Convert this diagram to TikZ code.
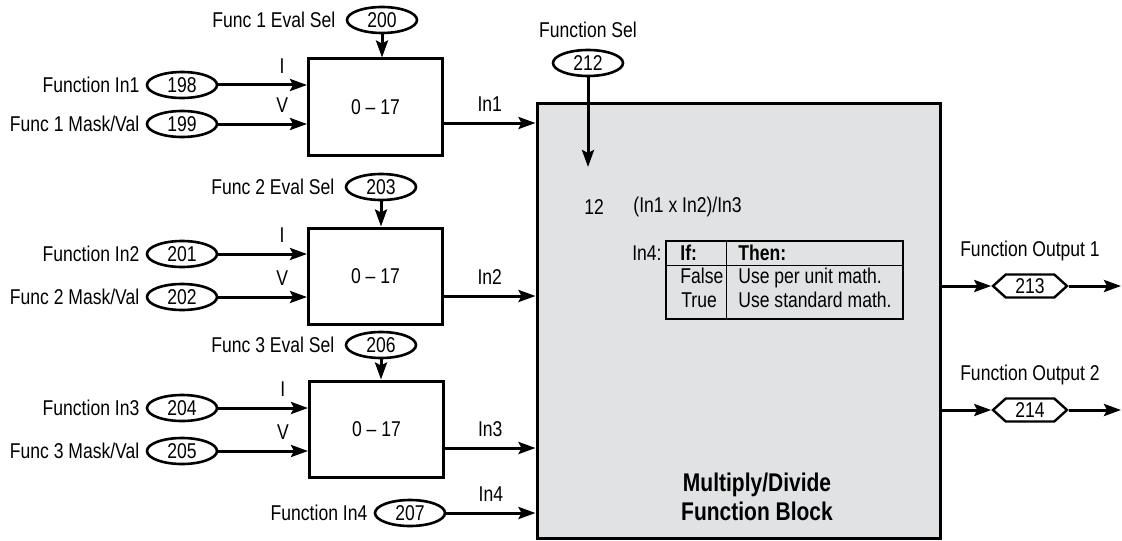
\documentclass[tikz,border=0pt]{standalone}
\usepackage{fontspec}
\setmainfont{Liberation Sans}[FakeStretch=0.82]
\usetikzlibrary{positioning,arrows.meta,shapes.geometric,shapes.symbols}
\definecolor{BlockGray}{HTML}{E1E2E4}

\begin{document}
\begin{tikzpicture}[
  x=0.5pt, y=-0.5pt,
  font=\fontsize{10.7}{12}\selectfont,
  >={Stealth[length=8.5pt,width=6pt,inset=1.5pt]},
  % --- block and parameter styles ---
  selbox/.style={draw=black, line width=1.5pt, minimum width=67pt, minimum height=48pt, inner sep=0pt},
  parm/.style={ellipse, draw=black, line width=1.3pt, minimum width=35pt, minimum height=13pt, inner sep=0pt},
  outparm/.style={signal, signal to=east and west, signal pointer angle=84, draw=black, line width=1.2pt, minimum width=37pt, minimum height=11.5pt, inner sep=0pt},
  fblock/.style={draw=black, line width=1.5pt, fill=BlockGray, minimum width=201.5pt, minimum height=217.5pt, inner sep=0pt},
  % --- lines and text ---
  flow/.style={->, line width=1.5pt},
  lbl/.style={inner sep=2pt},
  tline/.style={line width=0.7pt},
  cell/.style={anchor=base west, inner sep=0pt},
  title/.style={font=\fontsize{12.8}{14.5}\selectfont\bfseries, align=center},
]
\useasboundingbox (0,0) rectangle (1122,540);

% =================== FUNCTION BLOCK ===================
\node[fblock] (fb) at (738.5,320.5) {};
\node[title] (ttl) at (757,497) {Multiply/Divide\\Function Block};

\node[parm] (p212) at (588,63) {212};
\node[lbl, above=3.5pt of p212] (tsel) {Function Sel};
\coordinate (selend) at (588,167);

\node[inner sep=0pt] (t12) at (594,207) {12};
\node[anchor=west, inner sep=0pt] (tfn) at (633,207) {(In1 x In2)/In3};

% In4 truth table
\node[draw, tline, minimum width=118.5pt, minimum height=39pt, inner sep=0pt] (tbl) at (784.5,280) {};
\draw[tline] ([yshift=-12.5pt]tbl.north west) -- ([yshift=-12.5pt]tbl.north east);
\draw[tline] ([xshift=30.5pt]tbl.north west) -- ([xshift=30.5pt]tbl.south west);
\node[anchor=base east, inner sep=0pt] (tin4) at (662,260) {In4:};
\node[cell, font=\fontsize{10.7}{12}\selectfont\bfseries] (cif) at (680,260) {If:};
\node[cell, font=\fontsize{10.7}{12}\selectfont\bfseries] (cthen) at (738,260) {Then:};
\node[cell] (cfalse) at (680,283) {False};
\node[cell] (ctrue) at (681,307) {True};
\node[cell] (cunit) at (738,283) {Use per unit math.};
\node[cell] (cstd) at (738,307) {Use standard math.};

% =================== SELECTOR 1 ===================
\node[selbox] (sel1) at (375.5,107) {0 – 17};
\node[parm] (p200) at (382,20) {200};
\node[lbl, left=3pt of p200] (t200) {Func 1 Eval Sel};
\node[parm] (p198) at (182,85) {198};
\node[lbl, left=1pt of p198] (t198) {Function In1};
\node[parm] (p199) at (182,124) {199};
\node[lbl, left=1pt of p199] (t199) {Func 1 Mask/Val};
\coordinate (s1out) at ([yshift=-8pt]sel1.east);

% =================== SELECTOR 2 ===================
\node[selbox] (sel2) at (375.5,276) {0 – 17};
\node[parm] (p203) at (381,187) {203};
\node[lbl, left=3pt of p203] (t203) {Func 2 Eval Sel};
\node[parm] (p201) at (182,254) {201};
\node[lbl, left=1pt of p201] (t201) {Function In2};
\node[parm] (p202) at (182,297) {202};
\node[lbl, left=1pt of p202] (t202) {Func 2 Mask/Val};
\coordinate (s2out) at ([yshift=-10pt]sel2.east);

% =================== SELECTOR 3 ===================
\node[selbox] (sel3) at (376.5,429) {0 – 17};
\node[parm] (p206) at (381,345) {206};
\node[lbl, left=3pt of p206] (t206) {Func 3 Eval Sel};
\node[parm] (p204) at (182,408) {204};
\node[lbl, left=1pt of p204] (t204) {Function In3};
\node[parm] (p205) at (182,451) {205};
\node[lbl, left=1pt of p205] (t205) {Func 3 Mask/Val};
\coordinate (s3out) at ([yshift=-9.5pt]sel3.east);

\node[parm] (p207) at (410,513) {207};
\node[lbl, left=1pt of p207] (t207) {Function In4};

% =================== OUTPUTS ===================
\node[outparm] (o213) at (1030,286) {213};
\node[lbl, above=4pt of o213] (tout1) {Function Output 1};
\coordinate (out1end) at (1121,286);
\node[outparm] (o214) at (1030,410) {214};
\node[lbl, above=4pt of o214] (tout2) {Function Output 2};
\coordinate (out2end) at (1121,410);

% =================== CONNECTIONS ===================
% eval selects
\draw[flow] (p200.south) -- (p200.south |- sel1.north);
\draw[flow] (p203.south) -- (p203.south |- sel2.north);
\draw[flow] (p206.south) -- (p206.south |- sel3.north);
\draw[flow] (p212.south) -- (selend);

% I / V inputs
\draw[flow] (p198.east) -- (p198 -| sel1.west) node[lbl, above=3pt, pos=0.72] (lI1) {I};
\draw[flow] (p199.east) -- (p199 -| sel1.west) node[lbl, above=3pt, pos=0.72] (lV1) {V};
\draw[flow] (p201.east) -- (p201 -| sel2.west) node[lbl, above=3pt, pos=0.72] (lI2) {I};
\draw[flow] (p202.east) -- (p202 -| sel2.west) node[lbl, above=3pt, pos=0.72] (lV2) {V};
\draw[flow] (p204.east) -- (p204 -| sel3.west) node[lbl, above=3pt, pos=0.72] (lI3) {I};
\draw[flow] (p205.east) -- (p205 -| sel3.west) node[lbl, above=3pt, pos=0.72] (lV3) {V};

% selector outputs into the block
\draw[flow] (s1out) -- (s1out -| fb.west) node[lbl, above=3pt, midway] (lIn1) {In1};
\draw[flow] (s2out) -- (s2out -| fb.west) node[lbl, above=3pt, midway] (lIn2) {In2};
\draw[flow] (s3out) -- (s3out -| fb.west) node[lbl, above=3pt, midway] (lIn3) {In3};
\draw[flow] (p207.east) -- (p207 -| fb.west) node[lbl, above=3pt, midway] (lIn4) {In4};

% block outputs
\draw[flow] (o213 -| fb.east) -- (o213.west);
\draw[flow] (o213.east) -- (out1end);
\draw[flow] (o214 -| fb.east) -- (o214.west);
\draw[flow] (o214.east) -- (out2end);

\end{tikzpicture}
\end{document}
